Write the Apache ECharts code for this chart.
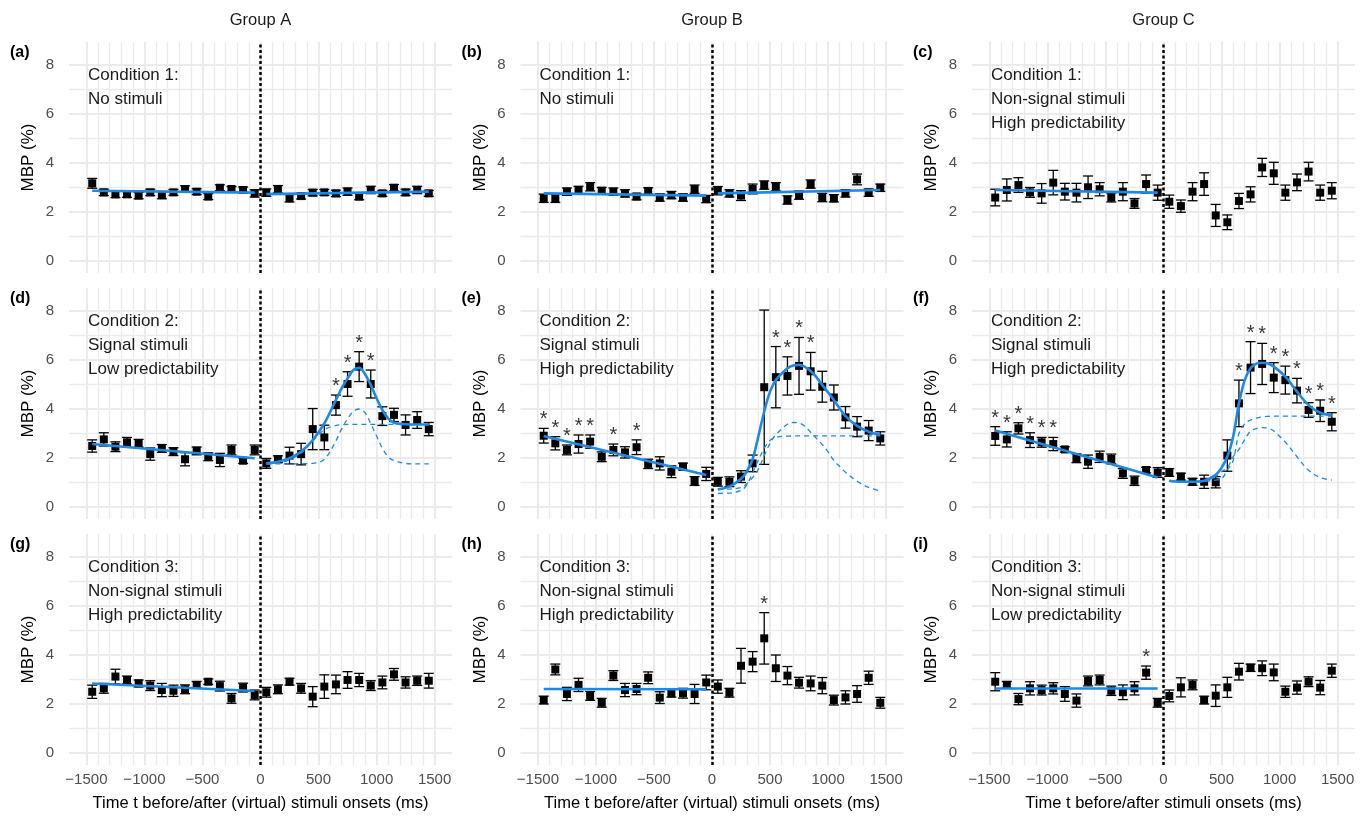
<!doctype html>
<html lang="en">
<head>
<meta charset="UTF-8">
<title>MBP around stimuli onsets</title>
<style>
    html, body { margin: 0; padding: 0; background: #fff; }
    #main { width: 1371px; height: 824px; }
</style>
<script src="https://cdn.jsdelivr.net/npm/echarts@6/dist/echarts.min.js"></script>
</head>
<body>
<div id="main"></div>
<script>
// time bins (ms)
var times = [-1450, -1350, -1250, -1150, -1050, -950, -850, -750, -650, -550, -450, -350, -250, -150, -50,
             50, 150, 250, 350, 450, 550, 650, 750, 850, 950, 1050, 1150, 1250, 1350, 1450];

// tick values
var xMajor = [-1500, -1000, -500, 0, 500, 1000, 1500];
var xMinor = [-1400, -1300, -1200, -1100, -900, -800, -700, -600, -400, -300, -200, -100,
              100, 200, 300, 400, 600, 700, 800, 900, 1100, 1200, 1300, 1400];
var yMajor = [0, 2, 4, 6, 8];
var yMinor = [1, 3, 5, 7];

// means and standard errors per panel
var meanA = [3.17, 2.80, 2.72, 2.72, 2.67, 2.80, 2.69, 2.80, 2.94, 2.83, 2.63, 2.99, 2.94, 2.90, 2.76,
             2.79, 2.93, 2.56, 2.65, 2.79, 2.80, 2.76, 2.83, 2.63, 2.90, 2.76, 2.99, 2.80, 2.90, 2.76];
var errA  = [.20, .13, .13, .12, .13, .13, .15, .12, .13, .12, .12, .12, .10, .12, .15,
             .15, .15, .15, .12, .13, .12, .13, .15, .13, .15, .12, .13, .13, .15, .12];
var meanB = [2.56, 2.56, 2.83, 2.90, 3.03, 2.87, 2.83, 2.76, 2.63, 2.86, 2.59, 2.69, 2.59, 2.93, 2.53,
             2.87, 2.76, 2.67, 2.94, 3.10, 3.03, 2.49, 2.69, 3.14, 2.59, 2.56, 2.76, 3.33, 2.79, 2.99];
var errB  = [.17, .17, .15, .15, .17, .13, .15, .15, .13, .13, .15, .15, .15, .17, .15,
             .17, .15, .20, .20, .17, .17, .17, .17, .17, .17, .15, .15, .22, .15, .15];
var meanC = [2.59, 2.90, 3.10, 2.80, 2.76, 3.20, 2.83, 2.79, 3.01, 2.93, 2.59, 2.83, 2.35, 3.14, 2.79,
             2.42, 2.24, 2.83, 3.14, 1.86, 1.58, 2.45, 2.72, 3.82, 3.58, 2.79, 3.21, 3.65, 2.79, 2.87];
var errC  = [.34, .45, .30, .20, .40, .50, .34, .38, .46, .27, .18, .37, .20, .37, .31,
             .27, .25, .37, .46, .45, .30, .31, .31, .37, .45, .31, .34, .38, .31, .33];
var meanD = [2.49, 2.76, 2.46, 2.64, 2.60, 2.16, 2.39, 2.26, 1.95, 2.29, 2.05, 1.92, 2.33, 1.89, 2.33,
             1.78, 1.95, 2.10, 2.16, 3.18, 2.84, 4.16, 5.02, 5.73, 5.02, 3.71, 3.76, 3.35, 3.55, 3.18];
var errD  = [.25, .27, .20, .20, .16, .25, .16, .16, .27, .16, .16, .27, .20, .11, .20,
             .20, .14, .34, .44, .84, .50, .41, .50, .61, .57, .38, .27, .41, .34, .27];
var meanE = [2.91, 2.60, 2.33, 2.57, 2.67, 2.05, 2.33, 2.23, 2.44, 1.76, 1.78, 1.44, 1.65, 1.06, 1.35,
             1.03, 1.03, 1.24, 1.78, 4.89, 5.30, 5.35, 5.76, 5.54, 4.91, 4.47, 3.66, 3.28, 3.12, 2.80];
var errE  = [.30, .27, .20, .37, .27, .20, .24, .23, .30, .19, .27, .24, .14, .18, .27,
             .18, .20, .24, .34, 3.15, 1.25, .78, 1.16, .77, .63, .51, .44, .41, .41, .27];
var meanF = [2.90, 2.76, 3.21, 2.73, 2.64, 2.57, 2.35, 1.99, 1.85, 2.05, 1.96, 1.37, 1.07, 1.51, 1.41,
             1.41, 1.24, 1.03, 1.03, 1.01, 2.10, 4.23, 5.69, 5.84, 5.28, 5.18, 4.75, 3.96, 3.93, 3.48];
var errF  = [.38, .31, .23, .30, .20, .27, .11, .18, .27, .23, .20, .20, .19, .11, .20,
             .16, .14, .14, .27, .23, .64, .95, 1.06, .84, .61, .57, .50, .30, .44, .37];
var meanG = [2.50, 2.64, 3.12, 2.98, 2.84, 2.75, 2.57, 2.54, 2.60, 2.78, 2.91, 2.73, 2.23, 2.67, 2.37,
             2.48, 2.60, 2.91, 2.64, 2.30, 2.71, 2.80, 2.98, 2.98, 2.75, 2.88, 3.21, 2.88, 2.95, 2.95];
var errG  = [.27, .20, .30, .16, .14, .20, .27, .23, .18, .14, .11, .20, .20, .18, .20,
             .20, .18, .14, .20, .41, .48, .38, .34, .27, .20, .26, .24, .23, .19, .30];
var meanH = [2.16, 3.41, 2.41, 2.78, 2.33, 2.05, 3.16, 2.57, 2.61, 3.07, 2.26, 2.44, 2.44, 2.41, 2.88,
             2.71, 2.46, 3.56, 3.73, 4.68, 3.46, 3.16, 2.87, 2.84, 2.75, 2.16, 2.27, 2.41, 3.07, 2.05];
var errH  = [.16, .22, .27, .27, .18, .18, .20, .27, .23, .24, .24, .16, .20, .39, .30,
             .27, .18, .71, .41, 1.05, .54, .37, .22, .30, .33, .20, .27, .34, .27, .22];
var meanI = [2.91, 2.78, 2.20, 2.64, 2.57, 2.64, 2.41, 2.14, 2.94, 2.98, 2.54, 2.48, 2.64, 3.28, 2.05,
             2.33, 2.68, 2.78, 2.16, 2.34, 2.68, 3.32, 3.48, 3.46, 3.29, 2.50, 2.67, 2.91, 2.67, 3.36];
var errI  = [.37, .14, .23, .27, .20, .23, .30, .27, .20, .20, .19, .30, .27, .27, .18,
             .24, .39, .20, .16, .44, .41, .34, .15, .30, .34, .23, .27, .20, .29, .27];

// significant bins (asterisks)
var starsD = [650, 750, 850, 950];
var starsE = [-1450, -1350, -1250, -1150, -1050, -850, -650, 550, 650, 750, 850];
var starsF = [-1450, -1350, -1250, -1150, -1050, -950, 650, 750, 850, 950, 1050, 1150, 1250, 1350, 1450];
var starsH = [450];
var starsI = [-150];

// fitted lines: pre-onset and post-onset linear fits (values at their end points)
var preT = [-1450, -50];
var postT = [50, 1450];
var fitPreA = [2.87, 2.79], fitPostA = [2.73, 2.83];
var fitPreB = [2.76, 2.67], fitPostB = [2.76, 2.90];
var fitPreC = [2.90, 2.79];
var fitPreD = [2.57, 1.99];
var fitPreE = [2.90, 1.31];
var fitPreF = [3.12, 1.20];
var fitPreG = [2.84, 2.53];
var fitPreH = [2.61, 2.60];
var fitPreI = [2.63, 2.63];

// fitted post-onset response curves (solid) and their two components (dashed)
var curveTD = [50, 150, 250, 350, 450, 550, 650, 700, 750, 800, 850, 900, 950, 1000, 1050, 1100, 1150, 1250, 1350, 1450];
var solidD  = [1.78, 1.85, 1.99, 2.26, 2.73, 3.41, 4.37, 4.85, 5.25, 5.59, 5.68, 5.43, 4.98, 4.44, 3.96, 3.62, 3.44, 3.38, 3.37, 3.37];
var stepD   = [1.76, 1.79, 1.93, 2.20, 2.70, 3.15, 3.33, 3.36, 3.37, 3.37, 3.37, 3.37, 3.37, 3.37, 3.37, 3.37, 3.37, 3.37, 3.37, 3.37];
var peakD   = [1.76, 1.76, 1.76, 1.77, 1.78, 1.95, 2.70, 3.20, 3.60, 3.90, 4.00, 3.85, 3.40, 2.90, 2.40, 2.05, 1.90, 1.78, 1.76, 1.76];

var curveTE = [50, 150, 250, 300, 350, 400, 450, 500, 550, 650, 700, 750, 800, 850, 900, 950, 1000, 1050, 1100, 1150, 1250, 1350, 1450];
var solidE  = [0.72, 0.83, 1.15, 1.45, 1.95, 2.90, 3.90, 4.71, 5.18, 5.66, 5.78, 5.80, 5.72, 5.55, 5.30, 4.98, 4.68, 4.37, 4.02, 3.71, 3.31, 3.07, 2.94];
var stepE   = [0.56, 0.57, 0.68, 0.90, 1.40, 1.92, 2.40, 2.72, 2.85, 2.89, 2.90, 2.90, 2.90, 2.90, 2.90, 2.90, 2.90, 2.90, 2.90, 2.90, 2.90, 2.90, 2.90];
var peakE   = [0.72, 0.73, 0.80, 0.95, 1.20, 1.55, 2.10, 2.60, 2.95, 3.38, 3.45, 3.43, 3.30, 3.05, 2.80, 2.55, 2.25, 1.90, 1.65, 1.42, 1.05, 0.80, 0.65];

var curveTF = [50, 150, 250, 350, 450, 500, 550, 600, 650, 700, 750, 800, 850, 900, 950, 1050, 1150, 1250, 1350, 1450];
var solidF  = [1.07, 1.03, 1.03, 1.07, 1.31, 1.60, 2.05, 2.87, 4.23, 5.18, 5.66, 5.85, 5.89, 5.86, 5.73, 5.32, 4.71, 4.16, 3.85, 3.76];
var stepF   = [1.05, 1.03, 1.03, 1.04, 1.10, 1.15, 1.50, 1.90, 3.00, 3.40, 3.55, 3.63, 3.68, 3.70, 3.71, 3.71, 3.71, 3.71, 3.71, 3.71];
var peakF   = [1.05, 1.05, 1.05, 1.08, 1.25, 1.45, 1.60, 2.05, 2.35, 2.75, 3.10, 3.20, 3.24, 3.22, 3.10, 2.65, 2.05, 1.50, 1.20, 1.10];

var groupTitles = ['Group A', 'Group B', 'Group C'];
var xTitles = ['Time t before/after (virtual) stimuli onsets (ms)',
               'Time t before/after (virtual) stimuli onsets (ms)',
               'Time t before/after stimuli onsets (ms)'];

var panels = [
    {tag: '(a)', note: 'Condition 1:\nNo stimuli', mean: meanA, err: errA, stars: [], pre: fitPreA, post: fitPostA},
    {tag: '(b)', note: 'Condition 1:\nNo stimuli', mean: meanB, err: errB, stars: [], pre: fitPreB, post: fitPostB},
    {tag: '(c)', note: 'Condition 1:\nNon-signal stimuli\nHigh predictability', mean: meanC, err: errC, stars: [], pre: fitPreC},
    {tag: '(d)', note: 'Condition 2:\nSignal stimuli\nLow predictability', mean: meanD, err: errD, stars: starsD, pre: fitPreD,
        curveT: curveTD, solid: solidD, comps: [stepD, peakD]},
    {tag: '(e)', note: 'Condition 2:\nSignal stimuli\nHigh predictability', mean: meanE, err: errE, stars: starsE, pre: fitPreE,
        curveT: curveTE, solid: solidE, comps: [stepE, peakE]},
    {tag: '(f)', note: 'Condition 2:\nSignal stimuli\nHigh predictability', mean: meanF, err: errF, stars: starsF, pre: fitPreF,
        curveT: curveTF, solid: solidF, comps: [stepF, peakF]},
    {tag: '(g)', note: 'Condition 3:\nNon-signal stimuli\nHigh predictability', mean: meanG, err: errG, stars: [], pre: fitPreG},
    {tag: '(h)', note: 'Condition 3:\nNon-signal stimuli\nHigh predictability', mean: meanH, err: errH, stars: starsH, pre: fitPreH},
    {tag: '(i)', note: 'Condition 3:\nNon-signal stimuli\nLow predictability', mean: meanI, err: errI, stars: starsI, pre: fitPreI}
];

window.onload = function () {
    var chart = echarts.init(document.getElementById('main'), null, {renderer: 'canvas'});
    var FONT = '"Liberation Sans", Arial, sans-serif';
    var BLUE = '#1E88E5';
    var GRIDC = '#EBEBEB';
    var colLeft = [69, 520.5, 972];
    var rowTop = [42, 288, 534];
    var W = 383, H = 231;
    var XMIN = -1650, XMAX = 1650, YMIN = -0.49, YMAX = 8.94;

    var grids = [], xAxes = [], yAxes = [], series = [], graphics = [];

    function pairs(xs, ys) {
        return xs.map(function (x, k) { return [x, ys[k]]; });
    }

    function errBar(params, api) {
        var lo = api.coord([api.value(0), api.value(1)]);
        var hi = api.coord([api.value(0), api.value(2)]);
        var w = 5;
        var st = {stroke: '#000', lineWidth: 1.3};
        return {
            type: 'group',
            children: [
                {type: 'line', shape: {x1: lo[0], y1: lo[1], x2: hi[0], y2: hi[1]}, style: st},
                {type: 'line', shape: {x1: lo[0] - w, y1: lo[1], x2: lo[0] + w, y2: lo[1]}, style: st},
                {type: 'line', shape: {x1: hi[0] - w, y1: hi[1], x2: hi[0] + w, y2: hi[1]}, style: st}
            ]
        };
    }

    panels.forEach(function (p, i) {
        var row = Math.floor(i / 3), col = i % 3;
        var left = colLeft[col], top = rowTop[row];
        var bottomRow = row === 2;
        grids.push({left: left, top: top, width: W, height: H, outerBoundsMode: 'none'});

        // major x
        xAxes.push({
            type: 'value', gridIndex: i, min: XMIN, max: XMAX,
            axisLine: {show: false, onZero: false}, axisTick: {show: false, customValues: xMajor},
            axisLabel: {show: bottomRow, customValues: xMajor, margin: 7, fontSize: 15, color: '#4D4D4D', fontFamily: FONT,
                formatter: function (v) { return v < 0 ? '\u2212' + Math.abs(v) : String(v); }},
            splitLine: {show: true, lineStyle: {color: GRIDC, width: 2}},
            name: bottomRow ? xTitles[col] : '', nameLocation: 'middle', nameGap: 30,
            nameTextStyle: {fontSize: 16.5, color: '#000', fontFamily: FONT}
        });
        // minor x
        xAxes.push({
            type: 'value', gridIndex: i, min: XMIN, max: XMAX,
            axisLine: {show: false, onZero: false}, axisTick: {show: false, customValues: xMinor},
            axisLabel: {show: false, customValues: xMinor},
            splitLine: {show: true, lineStyle: {color: GRIDC, width: 1.3}}
        });
        // major y
        yAxes.push({
            type: 'value', gridIndex: i, min: YMIN, max: YMAX,
            axisLine: {show: false, onZero: false}, axisTick: {show: false, customValues: yMajor},
            axisLabel: {customValues: yMajor, margin: 15, fontSize: 15, color: '#4D4D4D', fontFamily: FONT},
            splitLine: {show: true, lineStyle: {color: GRIDC, width: 2}},
            name: 'MBP (%)', nameLocation: 'middle', nameGap: 32, nameRotate: 90,
            nameTextStyle: {fontSize: 17, color: '#000', fontFamily: FONT}
        });
        // minor y
        yAxes.push({
            type: 'value', gridIndex: i, min: YMIN, max: YMAX,
            axisLine: {show: false, onZero: false}, axisTick: {show: false, customValues: yMinor},
            axisLabel: {show: false, customValues: yMinor},
            splitLine: {show: true, lineStyle: {color: GRIDC, width: 1.3}}
        });

        var ax = 2 * i;

        // error bars + dotted onset line
        series.push({
            type: 'custom', xAxisIndex: ax, yAxisIndex: ax, silent: true, z: 2,
            renderItem: errBar,
            encode: {x: 0, y: [1, 2]},
            data: p.mean.map(function (m, k) { return [times[k], m - p.err[k], m + p.err[k]]; }),
            markLine: {
                silent: true, symbol: 'none', label: {show: false},
                lineStyle: {color: '#000', type: [3, 2.5], width: 2.5},
                data: [{xAxis: 0}]
            }
        });
        // means
        series.push({
            type: 'scatter', xAxisIndex: ax, yAxisIndex: ax, silent: true, z: 3,
            symbol: 'rect', symbolSize: 8, itemStyle: {color: '#000', opacity: 1},
            data: pairs(times, p.mean)
        });
        // fitted lines
        series.push({
            type: 'line', xAxisIndex: ax, yAxisIndex: ax, silent: true, z: 4,
            showSymbol: false, lineStyle: {color: BLUE, width: 2.6},
            data: pairs(preT, p.pre)
        });
        if (p.post) {
            series.push({
                type: 'line', xAxisIndex: ax, yAxisIndex: ax, silent: true, z: 4,
                showSymbol: false, lineStyle: {color: BLUE, width: 2.6},
                data: pairs(postT, p.post)
            });
        }
        if (p.solid) {
            p.comps.forEach(function (c) {
                series.push({
                    type: 'line', xAxisIndex: ax, yAxisIndex: ax, silent: true, z: 4, smooth: 0.35,
                    showSymbol: false, lineStyle: {color: BLUE, width: 1.3, type: [5, 4]},
                    data: pairs(p.curveT, c)
                });
            });
            series.push({
                type: 'line', xAxisIndex: ax, yAxisIndex: ax, silent: true, z: 5, smooth: 0.35,
                showSymbol: false, lineStyle: {color: BLUE, width: 2.6},
                data: pairs(p.curveT, p.solid)
            });
        }
        // asterisks above error bars
        if (p.stars.length) {
            series.push({
                type: 'scatter', xAxisIndex: ax, yAxisIndex: ax, silent: true, z: 6,
                symbol: 'circle', symbolSize: 1, itemStyle: {color: 'transparent'},
                label: {show: true, position: 'top', distance: 0, formatter: '*',
                    fontSize: 20, color: '#000', fontFamily: FONT, lineHeight: 16},
                data: p.stars.map(function (t) {
                    var k = times.indexOf(t);
                    return [t, p.mean[k] + p.err[k]];
                })
            });
        }

        // panel tag and condition note
        graphics.push({
            type: 'text', x: left - 59, y: top + 11, z: 100,
            style: {text: p.tag, font: 'bold 16px ' + FONT, fill: '#000', textAlign: 'left', textVerticalAlign: 'middle'}
        });
        graphics.push({
            type: 'text', x: left + 19, y: top + 21, z: 100,
            style: {text: p.note, font: '17px ' + FONT, lineHeight: 24, fill: '#1a1a1a', textAlign: 'left', textVerticalAlign: 'top'}
        });
    });

    groupTitles.forEach(function (g, c) {
        graphics.push({
            type: 'text', x: colLeft[c] + W / 2, y: 20, z: 100,
            style: {text: g, font: '16.5px ' + FONT, fill: '#1a1a1a', textAlign: 'center', textVerticalAlign: 'middle'}
        });
    });

    chart.setOption({
        animation: false,
        backgroundColor: '#fff',
        grid: grids,
        xAxis: xAxes,
        yAxis: yAxes,
        series: series,
        graphic: graphics
    });
};
</script>
</body>
</html>
